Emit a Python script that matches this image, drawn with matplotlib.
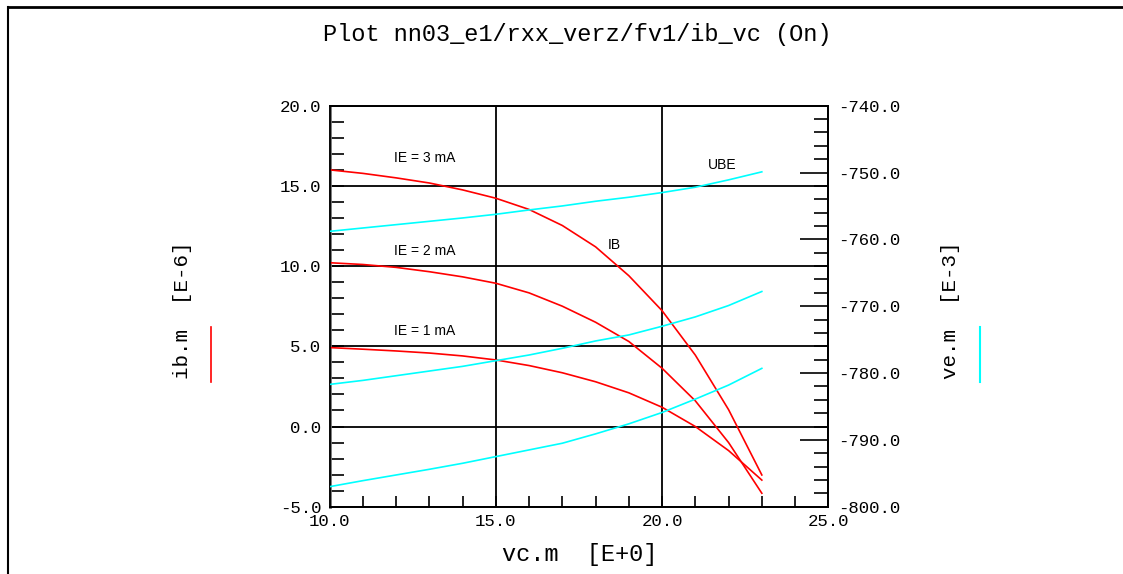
from matplotlib import pyplot as plt
from matplotlib.ticker import MultipleLocator, FormatStrFormatter
from matplotlib.lines import Line2D

# collector voltage (x axis, V)
vc = [10, 11, 12, 13, 14, 15, 16, 17, 18, 19, 20, 21, 22, 23]

# base current ib [E-6] for IE = 1, 2, 3 mA
ib_1mA = [4.92, 4.82, 4.71, 4.58, 4.40, 4.15, 3.80, 3.35, 2.79, 2.10, 1.20, 0.0, -1.50, -3.34]
ib_2mA = [10.21, 10.10, 9.92, 9.65, 9.33, 8.93, 8.33, 7.50, 6.50, 5.30, 3.63, 1.60, -1.00, -4.16]
ib_3mA = [16.00, 15.78, 15.50, 15.18, 14.75, 14.23, 13.53, 12.53, 11.20, 9.40, 7.22, 4.45, 1.05, -3.02]

# emitter voltage ve [E-3] for IE = 1, 2, 3 mA
ve_1mA = [-797.0, -796.1, -795.25, -794.4, -793.5, -792.5, -791.5, -790.5, -789.1, -787.6, -785.9, -783.9, -781.8, -779.3]
ve_2mA = [-781.7, -781.1, -780.4, -779.7, -779.0, -778.15, -777.3, -776.3, -775.2, -774.3, -773.0, -771.6, -769.9, -767.8]
ve_3mA = [-758.8, -758.3, -757.8, -757.3, -756.8, -756.25, -755.6, -755.0, -754.3, -753.7, -753.0, -752.2, -751.1, -749.9]

red = '#ff0000'
cyan = '#00ffff'
mono = 'Liberation Mono'

fig = plt.figure(figsize=(11.23, 5.74), dpi=100)
ax = fig.add_axes([0.2935, 0.1172, 0.4441, 0.6987])
ax2 = ax.twinx()

# left axis: ib
for ib in (ib_1mA, ib_2mA, ib_3mA):
    ax.plot(vc, ib, color=red, lw=1.2, zorder=3)
ax.set_xlim(10, 25)
ax.set_ylim(-5, 20)
ax.xaxis.set_major_locator(MultipleLocator(5))
ax.xaxis.set_minor_locator(MultipleLocator(1))
ax.yaxis.set_major_locator(MultipleLocator(5))
ax.yaxis.set_minor_locator(MultipleLocator(1))
ax.xaxis.set_major_formatter(FormatStrFormatter('%.1f'))
ax.yaxis.set_major_formatter(FormatStrFormatter('%.1f'))
ax.grid(True, which='major', color='black', lw=1.3)
ax.tick_params(which='both', direction='in', top=False, right=False,
               width=1.2, color='black')
ax.tick_params(axis='y', which='both', length=10, pad=6)
ax.tick_params(axis='x', which='both', length=8, pad=5)

# right axis: ve
for ve in (ve_1mA, ve_2mA, ve_3mA):
    ax2.plot(vc, ve, color=cyan, lw=1.2, zorder=3)
ax2.set_ylim(-800, -740)
ax2.yaxis.set_major_locator(MultipleLocator(10))
ax2.yaxis.set_minor_locator(MultipleLocator(2))
ax2.yaxis.set_major_formatter(FormatStrFormatter('%.1f'))
ax2.tick_params(axis='y', which='both', direction='in', width=1.2, pad=7)
ax2.tick_params(axis='y', which='major', length=20)
ax2.tick_params(axis='y', which='minor', length=10)

for a in (ax, ax2):
    for lab in a.get_xticklabels() + a.get_yticklabels():
        lab.set_fontfamily(mono)
        lab.set_fontsize(12.5)
    for s in a.spines.values():
        s.set_color('black')
        s.set_linewidth(1.3)
ax.spines['left'].set_color('#707070')
ax.spines['left'].set_linewidth(2)

# curve annotations
ann_font = dict(family='Liberation Sans', fontsize=10, ha='center', va='center')
ax.text(12.87, 16.74, 'IE = 3 mA', **ann_font)
ax.text(12.87, 10.94, 'IE = 2 mA', **ann_font)
ax.text(12.87, 5.95, 'IE = 1 mA', **ann_font)
ax.text(18.55, 11.32, 'IB', **ann_font)
ax.text(21.82, 16.3, 'UBE', **ann_font)

# titles and axis labels in plotter style
fig.text(0.514, 1 - 35 / 574, 'Plot nn03_e1/rxx_verz/fv1/ib_vc (On)',
         family=mono, fontsize=17, ha='center', va='center')
fig.text(580 / 1123, 1 - 554 / 574, 'vc.m  [E+0]',
         family=mono, fontsize=17, ha='center', va='center')
fig.text(183 / 1123, 1 - 310 / 574, 'ib.m  [E-6]', rotation=90,
         family=mono, fontsize=15, ha='center', va='center')
fig.text(950 / 1123, 1 - 310 / 574, 've.m  [E-3]', rotation=90,
         family=mono, fontsize=15, ha='center', va='center')

# legend keys next to the axis labels
fig.add_artist(Line2D([211 / 1123, 211 / 1123], [1 - 327 / 574, 1 - 382 / 574],
                      color=red, lw=1.2))
fig.add_artist(Line2D([980 / 1123, 980 / 1123], [1 - 327 / 574, 1 - 382 / 574],
                      color=cyan, lw=1.5))

# page frame (top and left edges)
fig.add_artist(Line2D([8 / 1123, 1.0], [1 - 7 / 574, 1 - 7 / 574], color='black', lw=2))
fig.add_artist(Line2D([8 / 1123, 8 / 1123], [0.0, 1 - 7 / 574], color='black', lw=1.5))

fig.savefig('out.png', dpi=100)
